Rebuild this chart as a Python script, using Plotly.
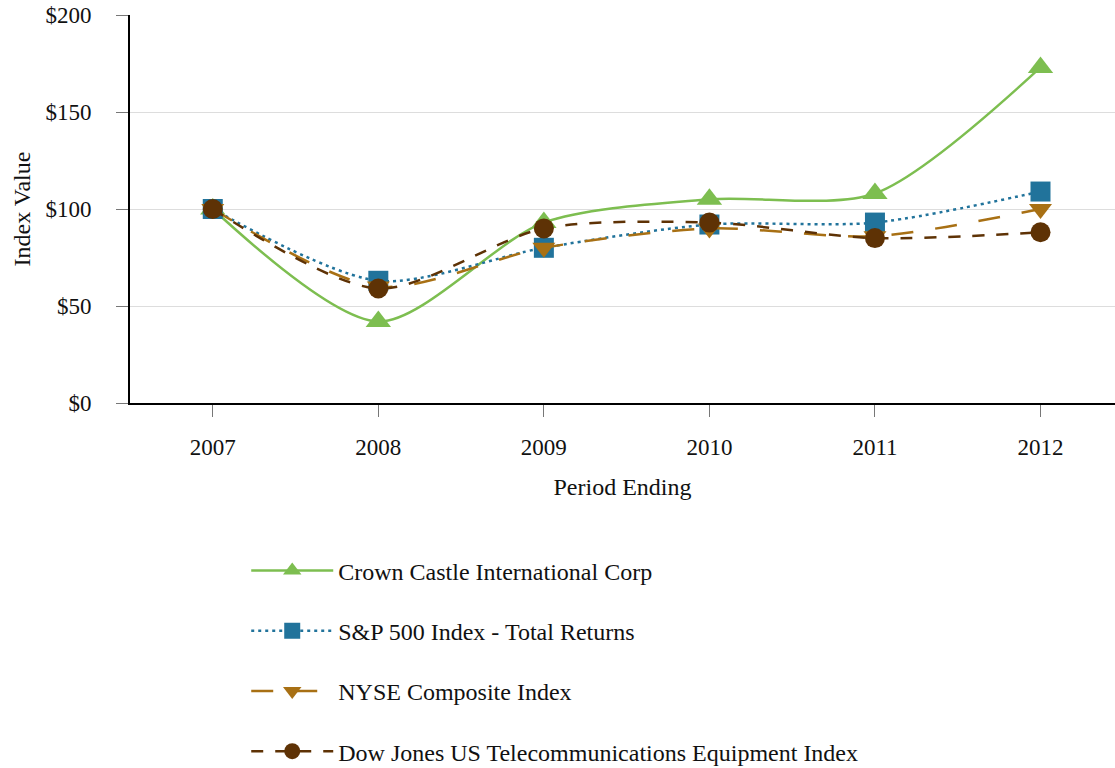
import plotly.graph_objects as go

years = [2007, 2008, 2009, 2010, 2011, 2012]
crown_castle = [100, 42, 93, 105, 108, 173]
sp500 = [100, 63, 80, 92, 93, 109]
nyse = [100, 60, 80, 90, 86, 100]
dow_jones = [100, 59, 90, 93, 85, 88]

series = [
    ("Crown Castle International Corp", crown_castle, "#7DBE50", "solid", "triangle-up", 22),
    ("S&P 500 Index - Total Returns", sp500, "#21739B", "3px,4px", "square", 20),
    ("NYSE Composite Index", nyse, "#A87014", "22px,22px", "triangle-down", 20),
    ("Dow Jones US Telecommunications Equipment Index", dow_jones, "#5E3205", "12px,12px", "circle", 20),
]

fig = go.Figure()
for i, (name, vals, color, dash, sym, size) in enumerate(series):
    fig.add_trace(go.Scatter(
        x=years, y=vals, name=name, mode="lines+markers",
        line=dict(color=color, width=2.5, dash=dash, shape="spline", smoothing=0.8),
        marker=dict(symbol=sym, size=size, color=color),
        legendgroup=f"g{i}",
    ))

font_family = "Liberation Serif"
fig.update_layout(
    width=1115, height=768,
    margin=dict(l=130, r=0, t=15, b=365, autoexpand=False),
    plot_bgcolor="white", paper_bgcolor="white",
    font=dict(family=font_family, size=23, color="#111"),
    showlegend=True,
    legend=dict(
        x=0.118, y=-0.375, xanchor="left", yanchor="top",
        font=dict(family=font_family, size=24, color="#111"),
        tracegroupgap=26, itemwidth=82, traceorder="grouped",
        bgcolor="rgba(0,0,0,0)",
    ),
    xaxis=dict(
        range=[2006.5, 2012.45], tickmode="array", tickvals=years,
        ticktext=[str(y) for y in years],
        showgrid=False, showline=True, linecolor="black", linewidth=2,
        ticks="outside", ticklen=12, tickcolor="#777", tickwidth=1,
        ticklabelstandoff=10,
        title=dict(text="Period Ending", standoff=20, font=dict(size=24)),
        zeroline=False,
    ),
    yaxis=dict(
        range=[0, 200], tickvals=[0, 50, 100, 150, 200],
        ticktext=["$0", "$50", "$100", "$150", "$200"],
        showgrid=True, gridcolor="#DDDDDD", gridwidth=1,
        showline=True, linecolor="black", linewidth=2,
        ticks="outside", ticklen=12, tickcolor="#777", tickwidth=1,
        ticklabelstandoff=20,
        title=dict(text="Index Value", standoff=8, font=dict(size=24)),
        zeroline=False,
    ),
)

fig.write_html("out.html", config={"displayModeBar": False},
               post_script="document.body.style.margin='0';")
